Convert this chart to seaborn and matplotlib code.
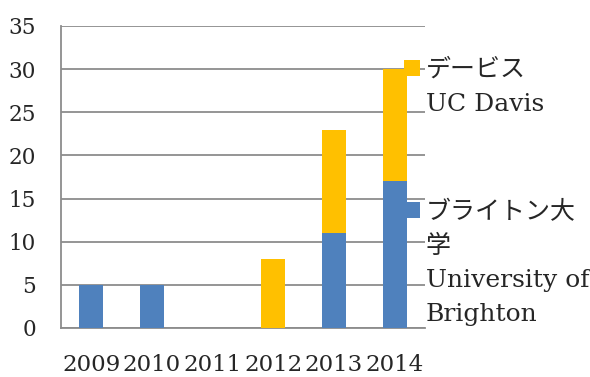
import seaborn as sns
import pandas as pd
import matplotlib.pyplot as plt
from matplotlib.patches import Patch
from matplotlib.ticker import FixedLocator

years = ["2009", "2010", "2011", "2012", "2013", "2014"]
brighton = [5, 5, 0, 0, 11, 17]
davis = [0, 0, 0, 8, 12, 13]
davis_label = ["デービス", "UC Davis"]
brighton_label = ["ブライトン大", "学", "University of", "Brighton"]

blue = "#4F81BD"
orange = "#FFC000"
grid_color = "#8C8C8C"

df = pd.DataFrame({"year": years, "brighton": brighton, "davis": davis})
df["total"] = df["brighton"] + df["davis"]

sns.set_style("white")
plt.rcParams["font.family"] = ["DejaVu Serif", "Noto Sans CJK JP"]
plt.rcParams["font.size"] = 15

fig = plt.figure(figsize=(5.9, 3.77), dpi=100)
ax = fig.add_axes([61 / 590, 49 / 377, 364 / 590, 302 / 377])

# stacked: totals in orange, brighton drawn over them in blue
sns.barplot(data=df, x="year", y="total", color=orange, width=0.4,
            saturation=1, linewidth=0, ax=ax, zorder=3)
sns.barplot(data=df, x="year", y="brighton", color=blue, width=0.4,
            saturation=1, linewidth=0, ax=ax, zorder=3)

ax.set_xlim(-0.5, 5.5)
ax.set_ylim(0, 35)
ax.set_yticks(range(0, 36, 5))
ax.set_xlabel("")
ax.set_ylabel("")

ax.yaxis.grid(True, color=grid_color, linewidth=1.3)
ax.set_axisbelow(True)
for side in ["top", "right"]:
    ax.spines[side].set_visible(False)
for side in ["left", "bottom"]:
    ax.spines[side].set_color(grid_color)
    ax.spines[side].set_linewidth(1.3)

ax.tick_params(axis="y", length=6, width=1.3, color=grid_color, pad=12, labelsize=15.5)
ax.tick_params(axis="x", which="major", length=0, pad=19, labelsize=16.5)
ax.xaxis.set_minor_locator(FixedLocator([i - 0.5 for i in range(len(years) + 1)]))
ax.tick_params(axis="x", which="minor", length=5, width=1.3, color=grid_color)

blank = Patch(facecolor="none", edgecolor="none")
h_davis = [Patch(facecolor=orange, edgecolor="none")] + [blank] * (len(davis_label) - 1)
h_brighton = [Patch(facecolor=blue, edgecolor="none")] + [blank] * (len(brighton_label) - 1)
leg_kw = dict(loc="upper left", frameon=False, borderpad=0, borderaxespad=0,
              handlelength=0.65, handleheight=0.6, handletextpad=0.22,
              labelspacing=0.44, fontsize=18, bbox_transform=fig.transFigure)
leg1 = ax.legend(h_davis, davis_label, bbox_to_anchor=(404 / 590, 1 - 59 / 377), **leg_kw)
ax.add_artist(leg1)
ax.legend(h_brighton, brighton_label, bbox_to_anchor=(404 / 590, 1 - 201 / 377), **leg_kw)

fig.savefig("out.png", dpi=100)
